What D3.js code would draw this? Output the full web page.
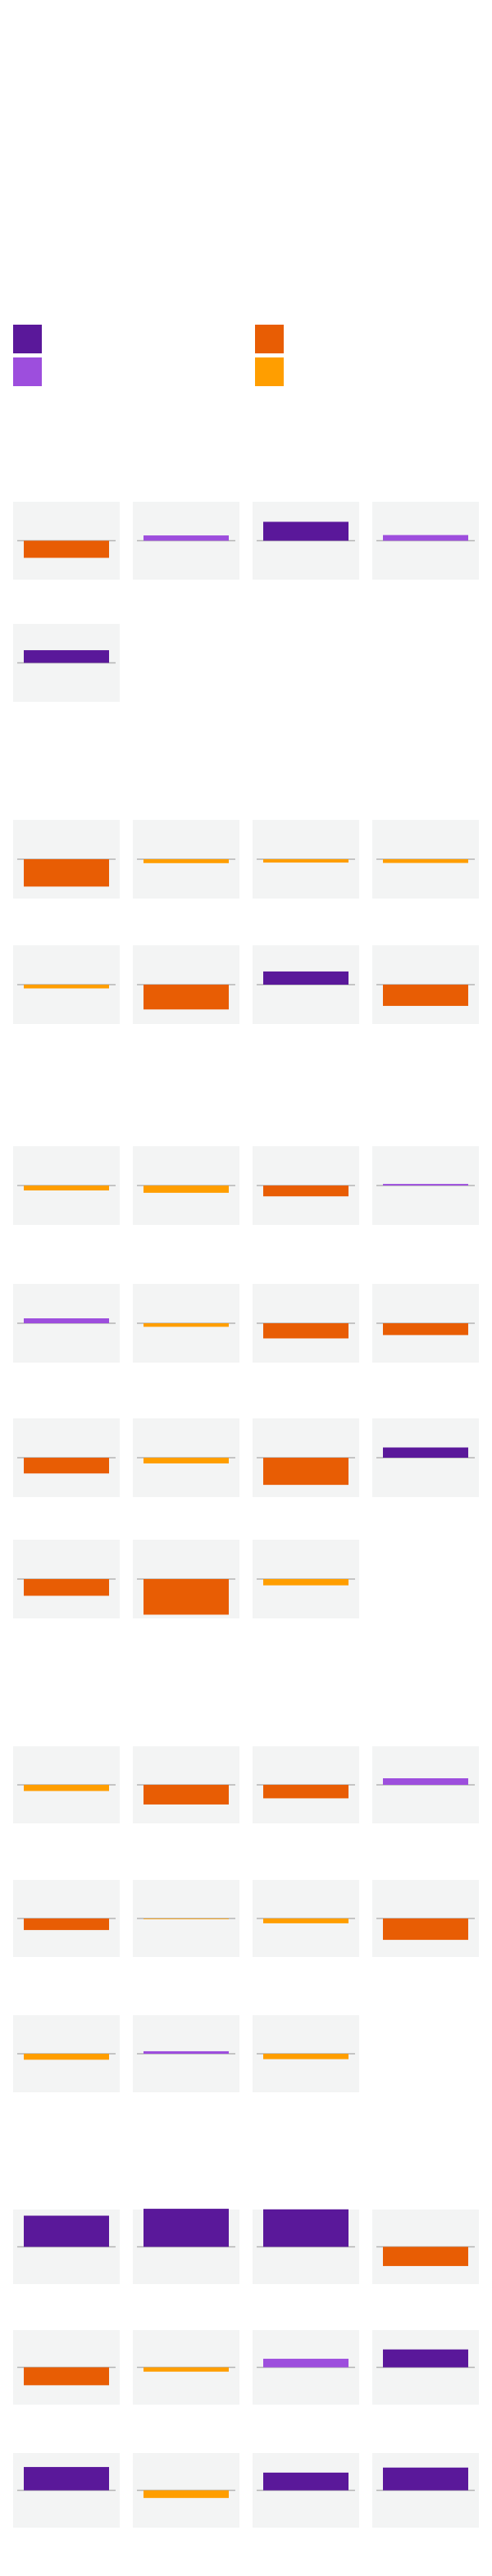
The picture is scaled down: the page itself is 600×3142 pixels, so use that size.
<!DOCTYPE html>
<html>
<head>
<meta charset="utf-8">
<script src="https://cdn.jsdelivr.net/npm/d3@7"></script>
<style>
  html, body { margin: 0; padding: 0; background: #ffffff; }
  svg { display: block; }
</style>
</head>
<body>
<div id="chart"></div>
<script>
// ---- data (percent change per panel, grouped in five sections) ----
const section1 = [-8.8, 2.7, 9.7, 2.9, 6.5];
const section2 = [-13.9, -2.0, -1.7, -1.9, -1.9, -12.6, 6.7, -10.8];
const section3 = [-2.5, -3.7, -5.5, 0.8, 2.5, -1.8, -7.7, -6.0, -8.0, -2.9, -13.8, 5.2, -8.5, -18.1, -3.2];
const section4 = [-3.2, -10.2, -7.0, 3.4, -6.0, -0.2, -2.5, -11.1, -3.1, 1.3, -2.8];
const section5 = [16.7, 20.4, 20.1, -10.3, -9.6, -2.3, 4.6, 9.6, 12.5, -4.1, 9.5, 12.2];
const sections = [section1, section2, section3, section4, section5];

const legendKeys = ["large increase", "small increase", "large decrease", "small decrease"];
const colorThresholds = [-5, 0, 5];
const colorRange = ["#e85d04", "#ff9e00", "#9d4edd", "#5a189a"];
const valueDomain = [-20, 20];

// ---- layout ----
const W = 600, H = 3142;
const cols = 4, colX0 = 16, colStep = 146, panelW = 130;
const sectionRowTops = [
  [612, 761],
  [1000, 1153],
  [1398, 1566, 1730, 1878],
  [2130, 2293, 2458],
  [2695, 2842, 2992]
];
const sectionPanelH = [95, 96, 96, 94, 91];

const svg = d3.select("#chart").append("svg")
  .attr("width", W).attr("height", H)
  .attr("viewBox", `0 0 ${W} ${H}`);

const color = d3.scaleThreshold().domain(colorThresholds).range(colorRange);

// legend
const legendItems = [
  { key: legendKeys[0], c: colorRange[3], col: 0, row: 0 },
  { key: legendKeys[1], c: colorRange[2], col: 0, row: 1 },
  { key: legendKeys[2], c: colorRange[0], col: 1, row: 0 },
  { key: legendKeys[3], c: colorRange[1], col: 1, row: 1 }
];
svg.append("g").selectAll("rect").data(legendItems).join("rect")
  .attr("x", d => 16 + d.col * 295)
  .attr("y", d => 396 + d.row * 40)
  .attr("width", 35).attr("height", 35)
  .attr("fill", d => d.c);

// panels
sections.forEach((vals, si) => {
  const ph = sectionPanelH[si];
  const y = d3.scaleLinear().domain(valueDomain).range([ph, 0]);
  vals.forEach((v, i) => {
    const col = i % cols, row = Math.floor(i / cols);
    const px = colX0 + col * colStep;
    const py = sectionRowTops[si][row];
    const x = d3.scaleBand().domain(["v"]).range([0, panelW]).paddingOuter(0.125).paddingInner(0);
    const g = svg.append("g").attr("transform", `translate(${px},${py})`);
    g.append("rect")
      .attr("width", panelW).attr("height", ph)
      .attr("fill", "#f3f4f4");
    g.append("line")
      .attr("x1", 5).attr("x2", panelW - 5)
      .attr("y1", y(0)).attr("y2", y(0))
      .attr("stroke", "#b4b4b4").attr("stroke-width", 1.5);
    g.append("rect")
      .datum(v)
      .attr("x", x("v"))
      .attr("width", x.bandwidth())
      .attr("y", d => Math.min(y(d), y(0)))
      .attr("height", d => Math.max(Math.abs(y(d) - y(0)), 0.8))
      .attr("fill", d => color(d));
  });
});
</script>
</body>
</html>
